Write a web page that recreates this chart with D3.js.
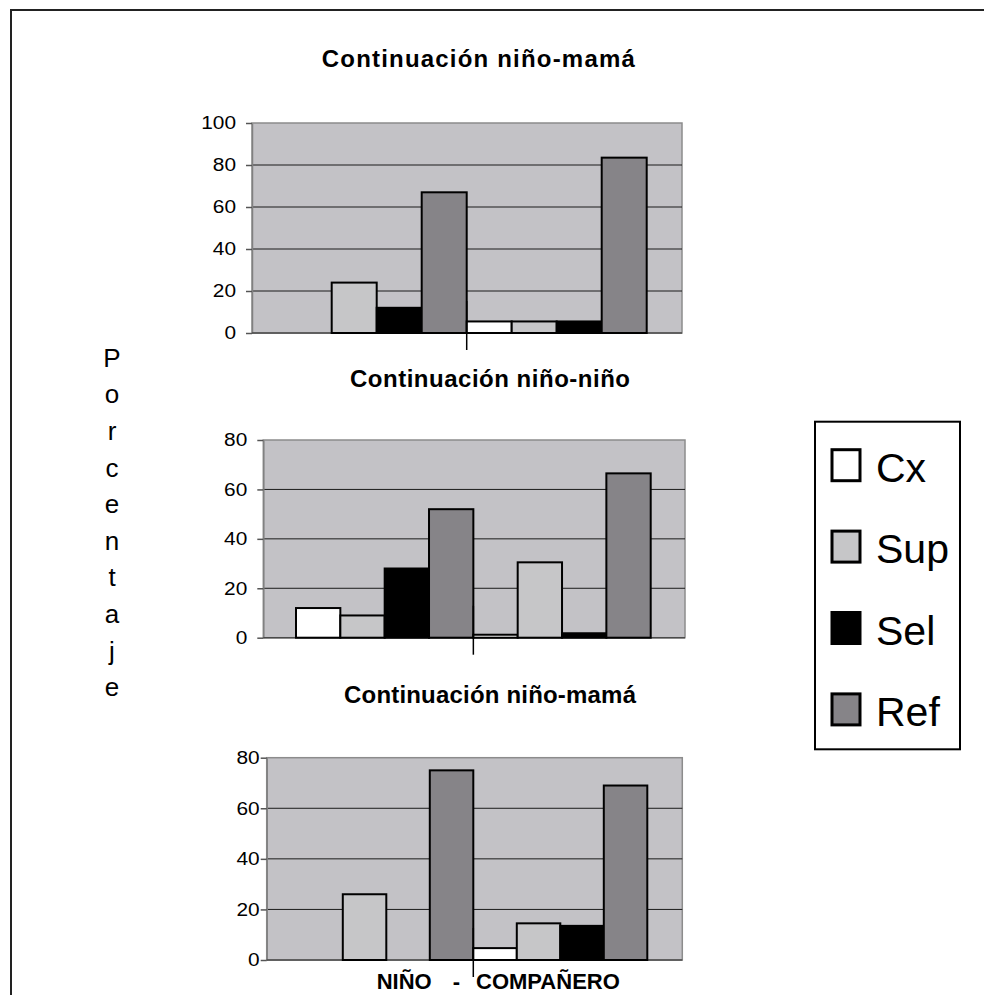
<!DOCTYPE html>
<html>
<head>
<meta charset="utf-8">
<script src="https://cdn.jsdelivr.net/npm/d3@7"></script>
<style>
  body { margin: 0; background: #fff; }
  text { font-family: "Liberation Sans", Arial, sans-serif; }
</style>
</head>
<body>
<div id="chart-container"></div>
<script>
// series and data
const seriesNames = ["Cx", "Sup", "Sel", "Ref"];
const seriesColors = ["#ffffff", "#c6c6c8", "#000000", "#868488"];
const groups = ["g1", "g2"];

const panelTitles = ["Continuación niño-mamá", "Continuación niño-niño", "Continuación niño-mamá"];

// one row per group, values in series order
const topValues = [[0, 24, 12, 67], [5.5, 5.5, 5.5, 83.5]];
const midValues = [[12, 9, 28, 52], [1.2, 30.5, 1.8, 66.5]];
const botValues = [[0, 26, 0, 75], [4.7, 14.5, 13.5, 69]];

const topTicks = [0, 20, 40, 60, 80, 100];
const midTicks = [0, 20, 40, 60, 80];
const botTicks = [0, 20, 40, 60, 80];

const yLabelText = "Porcentaje";
const xLabelParts = ["NIÑO", "-", "COMPAÑERO"];

// panel geometry
let panels = [
    { title: panelTitles[0], values: topValues, ticks: topTicks,
      left: 252, right: 682, top: 123, bottom: 333, barsLeft: 286.7, barsRight: 646.7,
      titleX: 478.3, titleY: 66.7, titleLen: 313, pad: 10 },
    { title: panelTitles[1], values: midValues, ticks: midTicks,
      left: 263.3, right: 685, top: 440, bottom: 637.7, barsLeft: 296, barsRight: 650.7,
      titleX: 490, titleY: 386.7, titleLen: 280, pad: 10 },
    { title: panelTitles[2], values: botValues, ticks: botTicks,
      left: 266.7, right: 682.3, top: 757.7, bottom: 960, barsLeft: 299.3, barsRight: 647.3,
      titleX: 490, titleY: 702.7, titleLen: 292, pad: 1 }
];

let svg = d3.select("#chart-container").append("svg")
    .attr("width", 984)
    .attr("height", 995);

// page frame (top and left edges only are visible)
svg.append("path")
    .attr("d", "M11,995 V10 H984")
    .attr("fill", "none")
    .attr("stroke", "#222")
    .attr("stroke-width", 2);

let color = d3.scaleOrdinal().domain(seriesNames).range(seriesColors);

panels.forEach(p => {
    let g = svg.append("g");

    let y = d3.scaleLinear()
        .domain([0, d3.max(p.ticks)])
        .range([p.bottom, p.top]);

    let x = d3.scaleBand()
        .domain(groups)
        .range([p.barsLeft, p.barsRight])
        .paddingInner(0);

    let xs = d3.scaleBand()
        .domain(seriesNames)
        .range([0, x.bandwidth()])
        .padding(0);

    g.append("text")
        .attr("x", p.titleX)
        .attr("y", p.titleY)
        .attr("text-anchor", "middle")
        .attr("font-weight", "bold")
        .attr("font-size", 24)
        .attr("textLength", p.titleLen)
        .attr("lengthAdjust", "spacing")
        .text(p.title);

    // plot area
    g.append("rect")
        .attr("x", p.left)
        .attr("y", p.top)
        .attr("width", p.right - p.left)
        .attr("height", p.bottom - p.top)
        .attr("fill", "#c3c2c6")
        .attr("stroke", "#8c8c8c")
        .attr("stroke-width", 1.5);

    g.selectAll(".grid")
        .data(p.ticks.filter(t => t > 0 && t < d3.max(p.ticks)))
        .join("line")
        .attr("x1", p.left)
        .attr("x2", p.right)
        .attr("y1", d => y(d))
        .attr("y2", d => y(d))
        .attr("stroke", "#1a1a1a")
        .attr("stroke-width", 1);

    let axis = g.append("g")
        .attr("transform", "translate(" + p.left + ",0)")
        .call(d3.axisLeft(y).tickValues(p.ticks).tickSize(6).tickSizeOuter(0).tickPadding(p.pad));
    axis.select(".domain").attr("stroke", "#808080").attr("stroke-width", 1.5);
    axis.selectAll(".tick line").attr("stroke", "#555").attr("stroke-width", 1.5);
    axis.selectAll(".tick text")
        .attr("font-size", 18)
        .attr("fill", "#000")
        .attr("font-family", "'Liberation Sans', Arial, sans-serif")
        .attr("textLength", d => String(d).length * 11.6)
        .attr("lengthAdjust", "spacingAndGlyphs");

    // zero line
    g.append("line")
        .attr("x1", p.left)
        .attr("x2", p.right)
        .attr("y1", y(0))
        .attr("y2", y(0))
        .attr("stroke", "#4a4a4a")
        .attr("stroke-width", 1.5);

    let bars = [];
    groups.forEach((grp, gi) => {
        seriesNames.forEach((s, si) => {
            bars.push({ group: grp, series: s, value: p.values[gi][si] });
        });
    });

    g.selectAll(".bar")
        .data(bars.filter(d => d.value > 0))
        .join("rect")
        .attr("class", "bar")
        .attr("x", d => x(d.group) + xs(d.series))
        .attr("y", d => y(d.value))
        .attr("width", xs.bandwidth())
        .attr("height", d => y(0) - y(d.value))
        .attr("fill", d => color(d.series))
        .attr("stroke", "#000")
        .attr("stroke-width", 2);

    // category divider tick
    let mid = x(groups[1]);
    g.append("line")
        .attr("x1", mid)
        .attr("x2", mid)
        .attr("y1", y(0) - 32)
        .attr("y2", y(0) + 17)
        .attr("stroke", "#000")
        .attr("stroke-width", 1.5);
});

// vertical axis title, one letter per line
svg.append("g").selectAll("text")
    .data(yLabelText.split(""))
    .join("text")
    .attr("x", 112)
    .attr("y", (d, i) => 366.7 + i * 36.6)
    .attr("text-anchor", "middle")
    .attr("font-size", 26)
    .text(d => d);

// bottom category label
let xLab = svg.append("g")
    .attr("font-weight", "bold")
    .attr("font-size", 22);
xLab.append("text").attr("x", 431.7).attr("y", 989).attr("text-anchor", "end").text(xLabelParts[0]);
xLab.append("text").attr("x", 456.5).attr("y", 989).attr("text-anchor", "middle").text(xLabelParts[1]);
xLab.append("text").attr("x", 476).attr("y", 989).attr("text-anchor", "start").text(xLabelParts[2]);

// legend
let legend = svg.append("g");
legend.append("rect")
    .attr("x", 815)
    .attr("y", 421.7)
    .attr("width", 145)
    .attr("height", 327.6)
    .attr("fill", "#fff")
    .attr("stroke", "#000")
    .attr("stroke-width", 2);

let items = legend.selectAll(".item")
    .data(seriesNames)
    .join("g")
    .attr("class", "item")
    .attr("transform", (d, i) => "translate(0," + (481.7 + i * 81.4) + ")");

items.append("rect")
    .attr("x", 832)
    .attr("y", -32)
    .attr("width", 28)
    .attr("height", 31)
    .attr("fill", d => color(d))
    .attr("stroke", "#000")
    .attr("stroke-width", 3);

items.append("text")
    .attr("x", 876)
    .attr("y", 0)
    .attr("font-size", 41)
    .text(d => d);
</script>
</body>
</html>
